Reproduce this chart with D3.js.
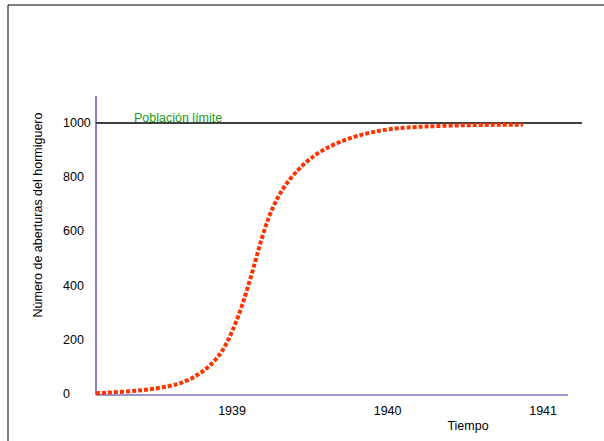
<!DOCTYPE html>
<html>
<head>
<meta charset="utf-8">
<script src="https://cdn.jsdelivr.net/npm/d3@7"></script>
<style>
  html, body { margin: 0; padding: 0; background: #fff; }
  svg { display: block; font-family: "Liberation Sans", Arial, sans-serif; }
</style>
</head>
<body>
<svg id="chart" width="604" height="441"></svg>
<script>
// Data
const years = [1938.125, 1938.30, 1938.45, 1938.60, 1938.70, 1938.78, 1938.85, 1938.91, 1938.96,
               1939.00, 1939.05, 1939.10, 1939.15, 1939.19, 1939.23, 1939.28, 1939.34, 1939.44,
               1939.57, 1939.76, 1939.95, 1940.10, 1940.40, 1940.72, 1940.87];
const values = [3, 8, 15, 28, 45, 70, 100, 135, 180,
                230, 300, 390, 490, 575, 645, 712, 772, 840,
                900, 948, 973, 984, 991, 994, 994];
const xTicks = [1939, 1940, 1941];
const yTicks = [0, 200, 400, 600, 800, 1000];
const limitValue = 1000;
const limitLabel = "Población límite";
const xTitle = "Tiempo";
const yTitle = "Número de aberturas del hormiguero";

const svg = d3.select("#chart");
const fs = 12.5;

const x = d3.scaleLinear().domain([1938.125, 1941.16]).range([96, 568]);
const y = d3.scaleLinear().domain([0, 1000]).range([394, 123]);

// frame lines
svg.append("line").attr("x1", 8).attr("y1", 5).attr("x2", 604).attr("y2", 5)
  .attr("stroke", "#000").attr("stroke-width", 1);
svg.append("line").attr("x1", 8).attr("y1", 5).attr("x2", 8).attr("y2", 441)
  .attr("stroke", "#000").attr("stroke-width", 1);

// limit line
svg.append("line")
  .attr("x1", x.range()[0]).attr("x2", 582)
  .attr("y1", y(limitValue)).attr("y2", y(limitValue))
  .attr("stroke", "#000").attr("stroke-width", 1.5);

svg.append("text")
  .attr("x", 134).attr("y", y(limitValue) - 1)
  .attr("font-size", fs).attr("fill", "#229922")
  .text(limitLabel);

// axes lines
svg.append("line").attr("x1", 96).attr("x2", 96).attr("y1", 96).attr("y2", 395)
  .attr("stroke", "#333399").attr("stroke-width", 1.2);
svg.append("line").attr("x1", 96).attr("x2", 568).attr("y1", 395).attr("y2", 395)
  .attr("stroke", "#333399").attr("stroke-width", 1.2);

// y tick labels (left aligned)
svg.selectAll(".ytick").data(yTicks).enter().append("text")
  .attr("class", "ytick")
  .attr("x", 63).attr("y", d => y(d) + 4)
  .attr("font-size", fs).attr("fill", "#000")
  .text(d => d);

// x tick labels
svg.selectAll(".xtick").data(xTicks).enter().append("text")
  .attr("class", "xtick")
  .attr("x", d => x(d)).attr("y", 415)
  .attr("text-anchor", "middle")
  .attr("font-size", fs).attr("fill", "#000")
  .text(d => d);

// axis titles
svg.append("text")
  .attr("x", 468).attr("y", 430)
  .attr("text-anchor", "middle")
  .attr("font-size", fs).attr("fill", "#000")
  .text(xTitle);

svg.append("text")
  .attr("transform", "translate(42,215) rotate(-90)")
  .attr("text-anchor", "middle")
  .attr("font-size", fs).attr("fill", "#000")
  .text(yTitle);

// curve
const data = years.map((t, i) => ({ t, v: values[i] }));
const gen = d3.line().x(d => x(d.t)).y(d => y(d.v)).curve(d3.curveBasis);
svg.append("path")
  .datum(data)
  .attr("d", gen)
  .attr("fill", "none")
  .attr("stroke", "#ff3300")
  .attr("stroke-width", 4)
  .attr("stroke-dasharray", "4 2");
</script>
</body>
</html>
